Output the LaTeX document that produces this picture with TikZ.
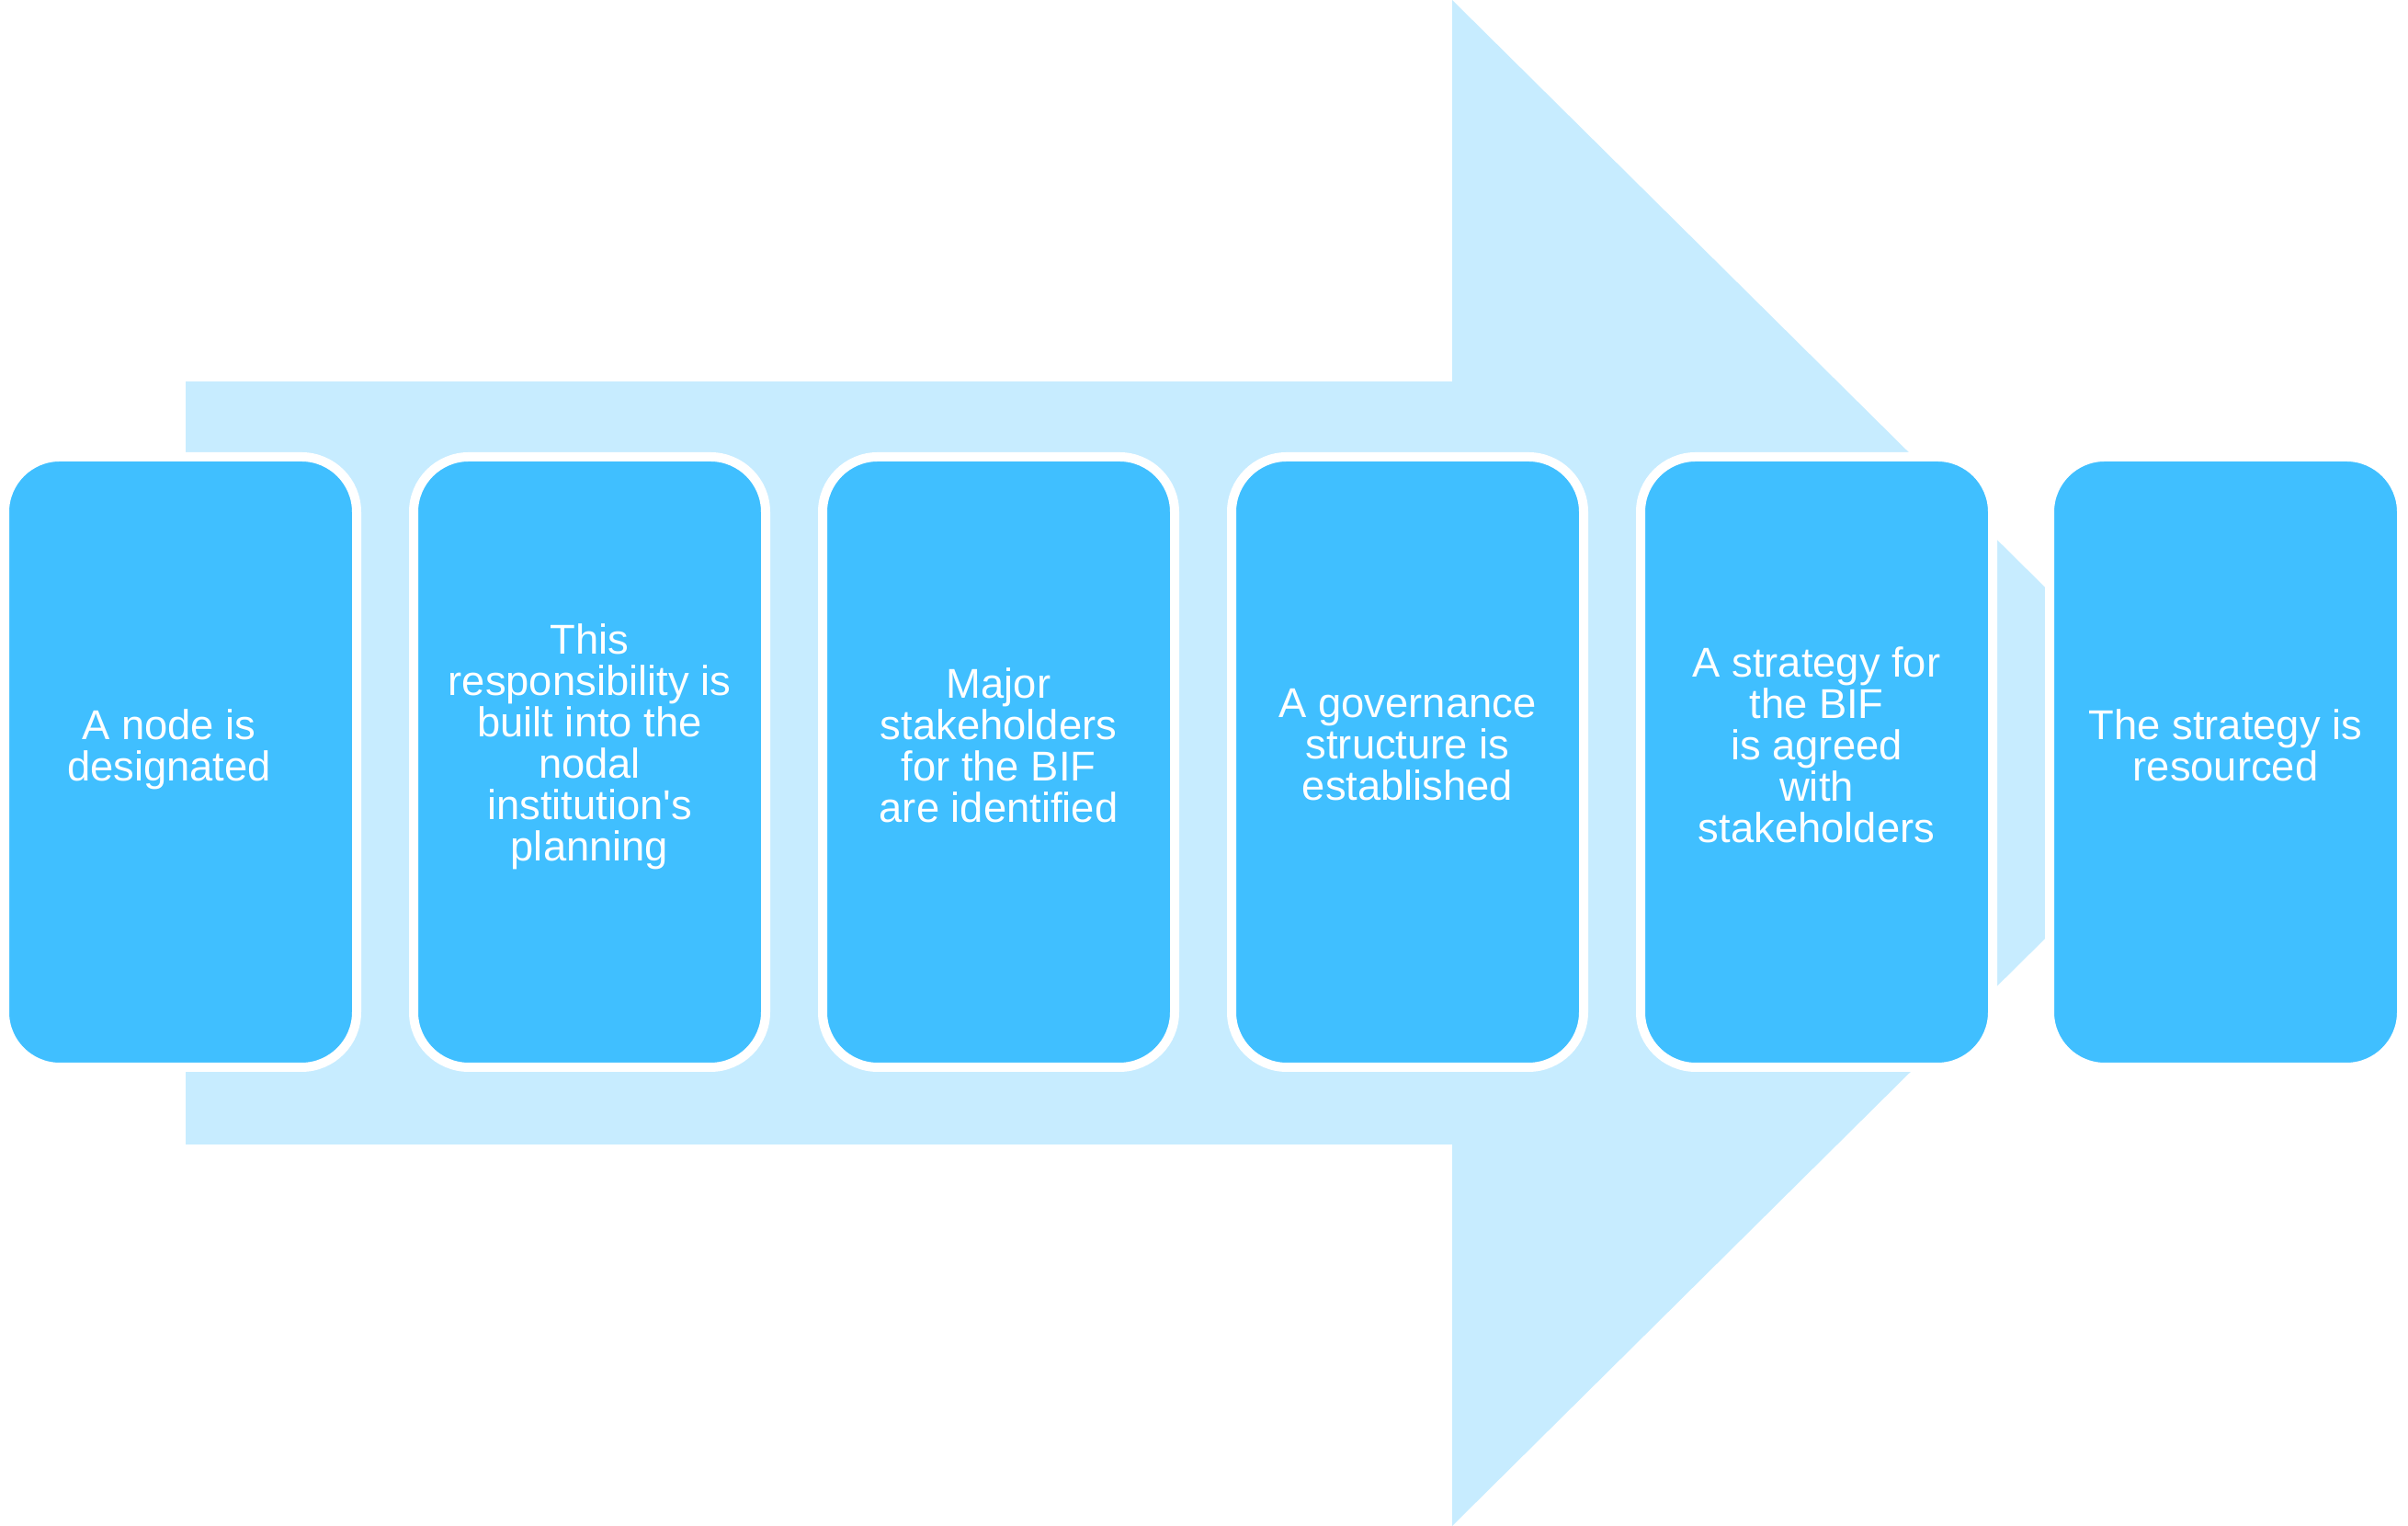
\documentclass[tikz,border=0pt]{standalone}
\usepackage{fontspec}
\setmainfont{Liberation Sans}
\definecolor{boxBlue}{RGB}{64,191,255}
\definecolor{arrowBlue}{RGB}{199,236,255}

\begin{document}
\begin{tikzpicture}[
    stepbox/.style={fill=boxBlue, draw=white, line width=0.1cm, rounded corners=0.6cm},
    steptext/.style={text=white, align=center, font=\fontsize{12.9}{12.8}\selectfont,
        execute at begin node=\strut, execute at end node=\strut}
]

            \useasboundingbox (0,0) rectangle (26.2,16.6);

            % big arrow behind the steps
            \fill[arrowBlue] (2.02,4.15) -- (2.02,12.45) -- (15.80,12.45) -- (15.80,16.6)
                -- (24.18,8.30) -- (15.80,0) -- (15.80,4.15) -- cycle;

            % step 1
            \draw[stepbox] (0.05,4.99) rectangle (3.88,11.63);
            \node[steptext] (designated) at (1.84,8.43) {A node is\\designated};

            % step 2
            \draw[stepbox] (4.50,4.99) rectangle (8.33,11.63);
            \node[steptext] (planning) at (6.415,8.46) {This\\responsibility is\\built into the\\nodal\\institution\textquotesingle s\\planning};

            % step 3
            \draw[stepbox] (8.95,4.99) rectangle (12.78,11.63);
            \node[steptext] (identified) at (10.865,8.43) {Major\\stakeholders\\for the BIF\\are identified};

            % step 4
            \draw[stepbox] (13.40,4.99) rectangle (17.23,11.63);
            \node[steptext] (governance) at (15.315,8.43) {A governance\\structure is\\established};

            % step 5
            \draw[stepbox] (17.85,4.99) rectangle (21.68,11.63);
            \node[steptext] (agreed) at (19.765,8.43) {A strategy for\\the BIF\\is agreed\\with\\stakeholders};

            % step 6
            \draw[stepbox] (22.30,4.99) rectangle (26.13,11.63);
            \node[steptext] (resourced) at (24.215,8.43) {The strategy is\\resourced};

\end{tikzpicture}
\end{document}
